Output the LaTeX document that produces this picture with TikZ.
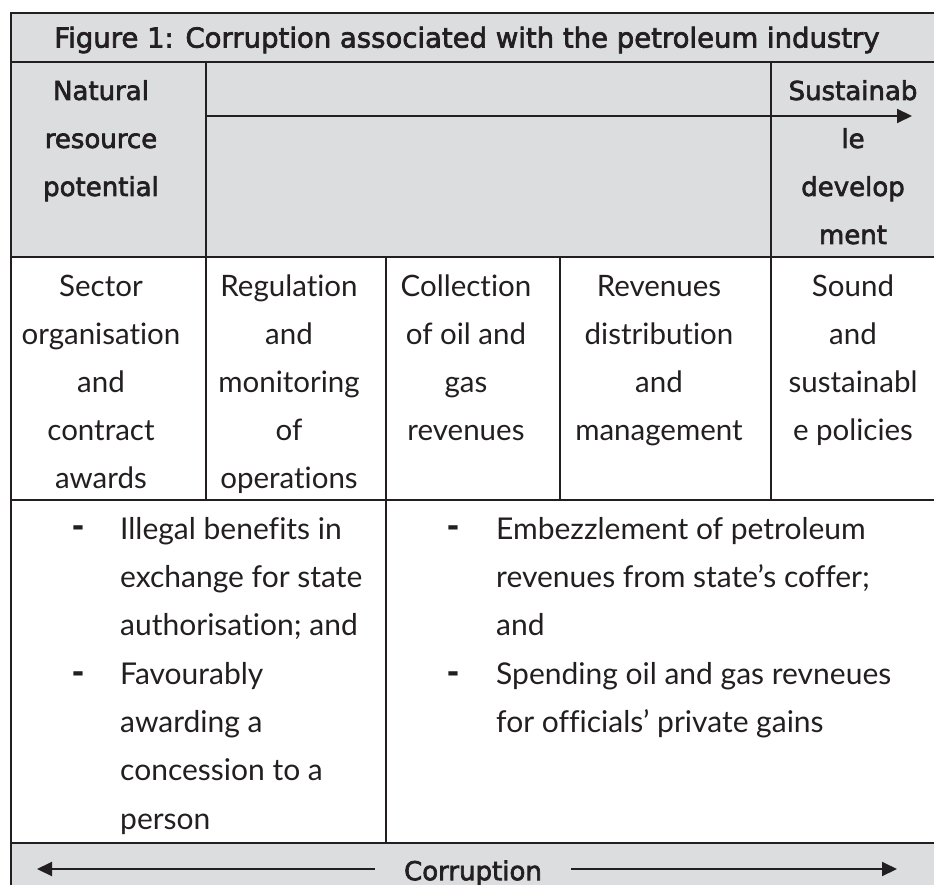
\documentclass[tikz,border=0pt]{standalone}
\usepackage{fontspec}
\setmainfont{Lato}[Ligatures=NoCommon]
\newfontfamily\headfont{DejaVu Sans}[FakeBold=2.5]
\newfontfamily\dashfont{DejaVu Sans}
\usetikzlibrary{arrows.meta, positioning, calc}
\definecolor{cellGray}{HTML}{DCDDDF}
\definecolor{inkDark}{HTML}{231F20}
\tikzset{
  rule/.style={draw=inkDark, line width=2pt},
  flowArrow/.style={-{Triangle[length=15pt, width=14pt]}, inkDark, line width=2pt},
  titleText/.style={font=\headfont\fontsize{27.5}{48}\selectfont, text=inkDark,
                    inner sep=0pt},
  headText/.style={font=\headfont\fontsize{26}{48}\selectfont, text=inkDark,
                   align=center, inner sep=0pt, anchor=north},
  bodyText/.style={font=\fontsize{29.5}{48}\selectfont, text=inkDark,
                   align=center, inner sep=0pt, anchor=north},
  listText/.style={font=\fontsize{30}{48.3}\selectfont, text=inkDark,
                   align=left, inner sep=0pt, anchor=north west},
  dashMark/.style={font=\dashfont\bfseries\fontsize{30}{48}\selectfont, text=inkDark,
                   inner sep=0pt},
}

\begin{document}
\begin{tikzpicture}[x=1pt, y=-1pt]
  \useasboundingbox (0,0) rectangle (934,885);
  \clip (0,0) rectangle (934,885);

  % shaded bands
  \fill[cellGray] (11,13) rectangle (949,257);
  \fill[cellGray] (11,843) rectangle (949,900);

  % table rules
  \draw[rule] (11,900) -- (11,13) -- (949,13) -- (949,900);
  \draw[rule] (11,62) -- (949,62);
  \draw[rule] (11,257) -- (949,257);
  \draw[rule] (11,500) -- (949,500);
  \draw[rule] (11,843) -- (949,843);
  \draw[rule] (206,62) -- (206,500);
  \draw[rule] (771,62) -- (771,500);
  \draw[rule] (386,257) -- (386,843);
  \draw[rule] (560,257) -- (560,500);

  % title and flow header
  \node[titleText] (title) at (467,40) {Figure 1: Corruption associated with the petroleum industry};
  \node[headText] (natural) at (101,80) {Natural\\resource\\potential};
  \node[headText] (sustain) at (853,80) {Sustainab\\le\\develop\\ment};
  \coordinate (flowStart) at (206,116);
  \coordinate (flowEnd) at (912,116);
  \draw[flowArrow] (flowStart) -- (flowEnd);

  % value chain stages
  \node[bodyText] (sector) at (101,275) {Sector\\organisation\\and\\contract\\awards};
  \node[bodyText] (regulation) at (289,275) {Regulation\\and\\monitoring\\of\\operations};
  \node[bodyText] (collection) at (466,275) {Collection\\of oil and\\gas\\revenues};
  \node[bodyText] (distribution) at (659,275) {Revenues\\distribution\\and\\management};
  \node[bodyText] (policies) at (853,275) {Sound\\and\\sustainabl\\e policies};

  % corruption risks
  \node[listText] (awardRisks) at (120,517) {Illegal benefits in\\exchange for state\\authorisation; and\\Favourably\\awarding a\\concession to a\\person};
  \node[dashMark] (dashA) at (78,531) {-};
  \node[dashMark] (dashB) at (78,677) {-};
  \node[listText] (revenueRisks) at (496,517) {Embezzlement of petroleum\\revenues from state’s coffer;\\and\\Spending oil and gas revneues\\for officials’ private gains};
  \node[dashMark] (dashC) at (453,531) {-};
  \node[dashMark] (dashD) at (453,677) {-};

  % corruption band
  \node[headText, anchor=center, inner xsep=29pt] (corr) at (473,873) {Corruption};
  \coordinate (leftTip) at (37,869);
  \coordinate (rightTip) at (897,869);
  \draw[flowArrow] (corr.west |- leftTip) -- (leftTip);
  \draw[flowArrow] (corr.east |- rightTip) -- (rightTip);
\end{tikzpicture}
\end{document}
